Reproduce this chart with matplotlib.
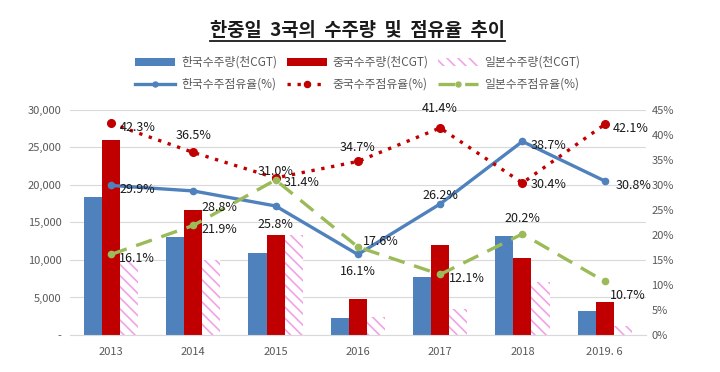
import matplotlib
matplotlib.use("Agg")
import matplotlib.pyplot as plt
import numpy as np
from matplotlib.lines import Line2D

plt.rcParams['font.family'] = ['Noto Sans CJK KR', 'DejaVu Sans']
plt.rcParams['hatch.linewidth'] = 1.2

categories = ['2013', '2014', '2015', '2016', '2017', '2018', '2019. 6']
korea_orders = [18400, 13000, 10900, 2200, 7700, 13200, 3250]
china_orders = [26000, 16700, 13300, 4750, 12000, 10200, 4400]
japan_orders = [10000, 10000, 13300, 2400, 3500, 7000, 1200]
korea_share = [29.9, 28.8, 25.8, 16.1, 26.2, 38.7, 30.8]
china_share = [42.3, 36.5, 31.4, 34.7, 41.4, 30.4, 42.1]
japan_share = [16.1, 21.9, 31.0, 17.6, 12.1, 20.2, 10.7]

# label offsets (points) for each series' data labels
korea_off = [(6, -3), (6, -12), (0, -13), (0, -12), (0, 6), (6, -3), (8, -3)]
china_off = [(6, -3), (0, 12), (6, -3), (0, 10), (0, 14), (6, -1), (6, -3)]
japan_off = [(6, -3), (6, -3), (0, 6), (4, 4), (6, -3), (0, 11), (4, -10)]

BLUE = '#4F81BD'
RED = '#C00000'
PINK = '#F2A2E6'
GREEN = '#9BBB59'
GRAY = '#595959'

fig = plt.figure(figsize=(7.2, 3.72), dpi=100)
ax = fig.add_axes([0.097, 0.0995, 0.8, 0.605])
ax2 = ax.twinx()

x = np.arange(len(categories))
w = 0.22
ax.bar(x - w, korea_orders, w, color=BLUE, zorder=2, label='한국수주량(천CGT)')
ax.bar(x, china_orders, w, color=RED, zorder=2, label='중국수주량(천CGT)')
ax.bar(x + w, japan_orders, w, color='white', edgecolor=PINK, hatch='\\\\\\', linewidth=0,
       zorder=2, label='일본수주량(천CGT)')

ax.set_ylim(0, 30000)
ax.set_xlim(-0.5, len(categories) - 0.5)
ax.set_yticks(np.arange(0, 30001, 5000))
ax.set_yticklabels(['-'] + [f'{v:,}' for v in range(5000, 30001, 5000)])
ax.set_xticks(x)
ax.set_xticklabels(categories)
ax.grid(axis='y', color='#D9D9D9', linewidth=0.8, zorder=0)
ax.set_axisbelow(True)
for s in ['top', 'left', 'right']:
    ax.spines[s].set_visible(False)
    ax2.spines[s].set_visible(False)
ax.spines['bottom'].set_color('#D9D9D9')
ax2.spines['bottom'].set_visible(False)
ax.tick_params(axis='both', length=0, labelsize=8, colors=GRAY, pad=6)
ax.tick_params(axis='x', pad=9)

lk, = ax2.plot(x, korea_share, color=BLUE, lw=2.4, marker='o', ms=4.5, label='한국수주점유율(%)')
lc, = ax2.plot(x, china_share, color=RED, lw=2.4, ls=(0, (1, 2)), marker='o', ms=5.5,
               label='중국수주점유율(%)')
lj, = ax2.plot(x, japan_share, color=GREEN, lw=2.4, ls=(0, (5, 3)), marker='o', ms=4.5,
               label='일본수주점유율(%)')
ax2.set_ylim(0, 45)
ax2.set_yticks(np.arange(0, 46, 5))
ax2.set_yticklabels([f'{v}%' for v in range(0, 46, 5)])
ax2.tick_params(axis='y', length=0, labelsize=8, colors=GRAY, pad=4)

def label(vals, offs):
    for xi, v, (dx, dy) in zip(x, vals, offs):
        ha = 'left' if dx > 0 else 'center'
        ax2.annotate(f'{v:.1f}%', (xi, v), xytext=(dx, dy), textcoords='offset points',
                     ha=ha, va='center', fontsize=9, color='#1a1a1a', zorder=5)

label(korea_share, korea_off)
label(china_share, china_off)
label(japan_share, japan_off)

bars_h, bars_l = ax.get_legend_handles_labels()
handles = [bars_h[0], lk, bars_h[1], lc, bars_h[2], lj]
labels = [bars_l[0], lk.get_label(), bars_l[1], lc.get_label(), bars_l[2], lj.get_label()]
leg = fig.legend(handles, labels, ncol=3, loc='center', bbox_to_anchor=(0.497, 0.803),
                 frameon=False, fontsize=8.5, labelcolor=GRAY, handlelength=3.4,
                 columnspacing=0.8, handletextpad=0.5, labelspacing=0.75, markerscale=0.8)

t = fig.text(0.497, 0.918, '한중일  3국의  수주량  및  점유율  추이', ha='center', va='center',
             fontsize=13.5, fontweight='bold', color='#1a1a1a')
fig.canvas.draw()
bb = t.get_window_extent().transformed(fig.transFigure.inverted())
fig.add_artist(Line2D([bb.x0, bb.x1], [bb.y0 - 0.004, bb.y0 - 0.004], color='#1a1a1a',
                      lw=1.3, transform=fig.transFigure))

fig.savefig('out.png', dpi=100)
